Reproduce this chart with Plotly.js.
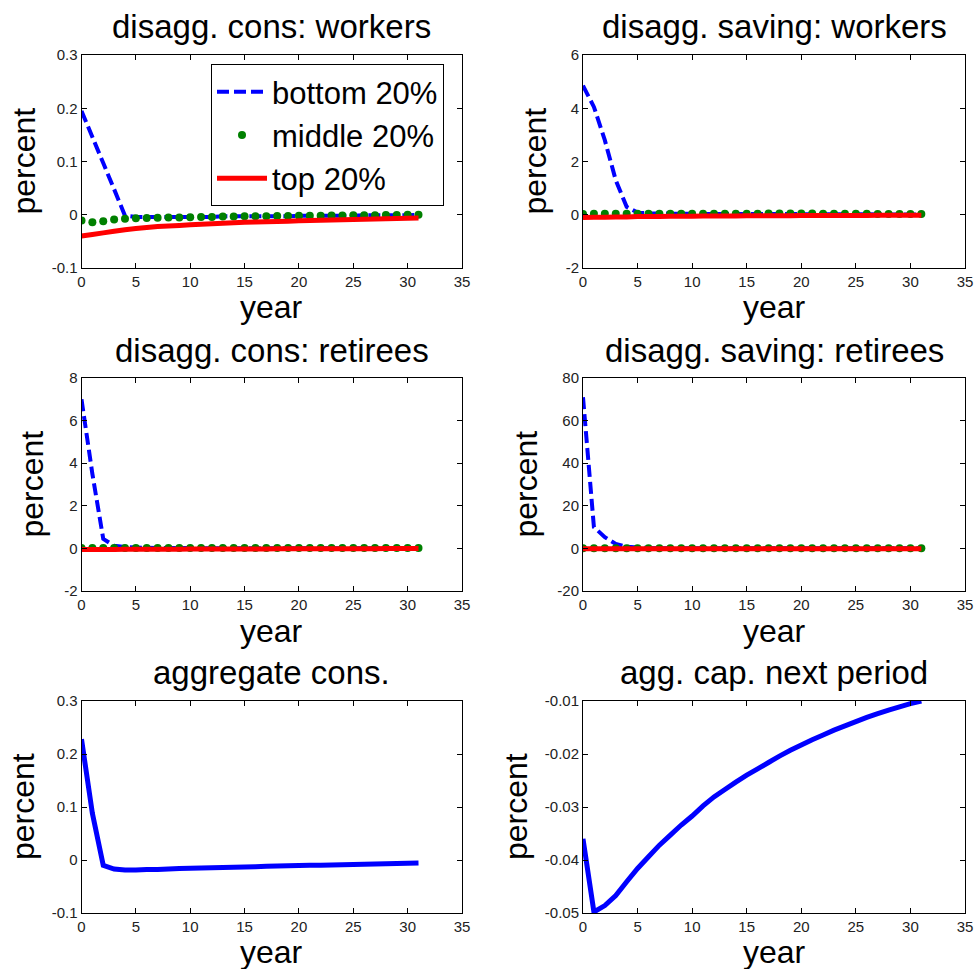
<!DOCTYPE html>
<html>
<head>
<meta charset="utf-8">
<script src="https://cdn.plot.ly/plotly-3.0.1.min.js"></script>
<style>html,body{margin:0;padding:0;background:#fff;}#chart{width:974px;height:969px;}</style>
</head>
<body>
<div id="chart"></div>
<script>
// ---------- data ----------
const years = [0,1,2,3,4,5,6,7,8,9,10,11,12,13,14,15,16,17,18,19,20,21,22,23,24,25,26,27,28,29,30,31];

const seriesNames = ["bottom 20%", "middle 20%", "top 20%"];

const consWorkersBottom = [0.195,0.146,0.097,0.048,-0.002,-0.004,-0.004,-0.004,-0.004,-0.004,-0.004,-0.004,-0.004,-0.003,-0.003,-0.003,-0.003,-0.003,-0.003,-0.003,-0.002,-0.002,-0.002,-0.002,-0.002,-0.002,-0.001,-0.001,-0.001,-0.001,-0.001,0.000];
const consWorkersMiddle = [-0.011,-0.014,-0.012,-0.009,-0.0075,-0.0065,-0.006,-0.0055,-0.005,-0.005,-0.0045,-0.004,-0.004,-0.0035,-0.0035,-0.003,-0.003,-0.003,-0.0025,-0.0025,-0.002,-0.002,-0.002,-0.0015,-0.0015,-0.001,-0.001,-0.001,-0.0005,-0.0005,0,0];
const consWorkersTop = [-0.040,-0.037,-0.034,-0.031,-0.028,-0.026,-0.024,-0.022,-0.021,-0.020,-0.019,-0.018,-0.017,-0.016,-0.015,-0.014,-0.0135,-0.013,-0.0125,-0.012,-0.0115,-0.011,-0.0105,-0.010,-0.0095,-0.009,-0.0085,-0.008,-0.0075,-0.007,-0.0065,-0.006];

const savWorkersBottom = [4.85,4.05,2.8,1.3,0.3,0.08,0.05,0.05,0.04,0.04,0.04,0.03,0.03,0.03,0.03,0.03,0.03,0.03,0.03,0.03,0.02,0.02,0.02,0.02,0.02,0.02,0.02,0.01,0.01,0.01,0.01,0.01];
const savWorkersMiddle = [0.03,0.04,0.04,0.04,0.04,0.04,0.04,0.04,0.04,0.04,0.04,0.04,0.04,0.04,0.04,0.04,0.04,0.05,0.05,0.05,0.05,0.05,0.04,0.04,0.04,0.04,0.04,0.03,0.03,0.03,0.03,0.03];
const savWorkersTop = [-0.10,-0.09,-0.09,-0.08,-0.08,-0.07,-0.07,-0.07,-0.06,-0.06,-0.06,-0.05,-0.05,-0.05,-0.05,-0.04,-0.04,-0.04,-0.04,-0.04,-0.03,-0.03,-0.03,-0.03,-0.03,-0.03,-0.03,-0.02,-0.02,-0.02,-0.02,-0.02];

const consRetBottom = [7.0,3.5,0.45,0.12,0.06,0.04,0.03,0.02,0.02,0.015,0.015,0.01,0.01,0.01,0.01,0.01,0.01,0.01,0.01,0.01,0.01,0.01,0.01,0.01,0.01,0.01,0.01,0.01,0.01,0.01,0.01,0.01];
const consRetMiddle = [0.02,0.02,0.02,0.02,0.02,0.02,0.02,0.02,0.02,0.02,0.02,0.02,0.02,0.02,0.02,0.02,0.02,0.02,0.02,0.02,0.02,0.02,0.02,0.02,0.02,0.02,0.02,0.02,0.02,0.02,0.02,0.02];
const consRetTop = [-0.05,-0.05,-0.05,-0.05,-0.04,-0.04,-0.04,-0.04,-0.04,-0.04,-0.03,-0.03,-0.03,-0.03,-0.03,-0.03,-0.03,-0.03,-0.02,-0.02,-0.02,-0.02,-0.02,-0.02,-0.02,-0.02,-0.02,-0.02,-0.01,-0.01,-0.01,-0.01];

const savRetBottom = [71,10,5.3,2.1,0.8,0.4,0.2,0.1,0.08,0.06,0.05,0.05,0.04,0.04,0.04,0.03,0.03,0.03,0.03,0.03,0.02,0.02,0.02,0.02,0.02,0.02,0.02,0.02,0.02,0.02,0.02,0.02];
const savRetMiddle = [0.1,0.1,0.1,0.1,0.1,0.1,0.1,0.1,0.1,0.1,0.1,0.1,0.1,0.1,0.1,0.1,0.1,0.1,0.1,0.1,0.1,0.1,0.1,0.1,0.1,0.1,0.1,0.1,0.1,0.1,0.1,0.1];
const savRetTop = [-0.2,-0.2,-0.2,-0.2,-0.2,-0.2,-0.2,-0.2,-0.2,-0.2,-0.2,-0.2,-0.2,-0.2,-0.2,-0.2,-0.2,-0.2,-0.2,-0.2,-0.2,-0.2,-0.2,-0.2,-0.2,-0.2,-0.2,-0.2,-0.2,-0.2,-0.2,-0.2];

const aggCons = [0.228,0.088,-0.010,-0.017,-0.019,-0.019,-0.018,-0.018,-0.017,-0.016,-0.0155,-0.015,-0.0145,-0.014,-0.0135,-0.013,-0.0125,-0.012,-0.0115,-0.011,-0.0105,-0.010,-0.0097,-0.0093,-0.009,-0.0085,-0.008,-0.0075,-0.007,-0.0065,-0.006,-0.0055];
const aggCap = [-0.036,-0.0498,-0.0486,-0.0467,-0.0441,-0.0416,-0.0394,-0.0372,-0.0353,-0.0334,-0.0317,-0.0298,-0.0281,-0.0267,-0.0253,-0.0240,-0.0228,-0.0216,-0.0204,-0.0193,-0.0183,-0.0173,-0.0164,-0.0155,-0.0147,-0.0139,-0.0131,-0.0124,-0.0117,-0.0111,-0.0105,-0.0100];

const panelTitles = ["disagg. cons: workers","disagg. saving: workers","disagg. cons: retirees","disagg. saving: retirees","aggregate cons.","agg. cap. next period"];
const xLabel = "year";
const yLabel = "percent";

const xTickVals = [0,5,10,15,20,25,30,35];
const xTickText = ["0","5","10","15","20","25","30","35"];
const yTicks = [
  {vals:[-0.1,0,0.1,0.2,0.3], text:["-0.1","0","0.1","0.2","0.3"]},
  {vals:[-2,0,2,4,6], text:["-2","0","2","4","6"]},
  {vals:[-2,0,2,4,6,8], text:["-2","0","2","4","6","8"]},
  {vals:[-20,0,20,40,60,80], text:["-20","0","20","40","60","80"]},
  {vals:[-0.1,0,0.1,0.2,0.3], text:["-0.1","0","0.1","0.2","0.3"]},
  {vals:[-0.05,-0.04,-0.03,-0.02,-0.01], text:["-0.05","-0.04","-0.03","-0.02","-0.01"]}
];

// ---------- layout geometry (pixels) ----------
const W = 974, H = 969;
const colX = [[81.5,462],[583,965]];
const rowY = [[55,268],[378,591],[701,913]];
const yRanges = [[-0.1,0.3],[-2,6],[-2,8],[-20,80],[-0.1,0.3],[-0.05,-0.01]];
const titleCY = [27,350,672];
const xlabCY = [307,631,952];
const ylabCX = [[24,535],[31,525],[23,516]];

const FONT = "Liberation Sans, Arial, Helvetica, sans-serif";
const BLUE = "#0000ff", GREEN = "#008000", RED = "#ff0000";

const layout = {
  width: W, height: H,
  margin: {l:0, r:0, t:0, b:0},
  paper_bgcolor: "#fff", plot_bgcolor: "#fff",
  font: {family: FONT, color: "#000"},
  showlegend: true,
  legend: {
    x: 211/W, y: 1-64/H, xanchor: "left", yanchor: "top",
    bgcolor: "#fff", bordercolor: "#000", borderwidth: 1,
    font: {family: FONT, size: 31, color: "#000"},
    tracegroupgap: 0, itemwidth: 50
  },
  annotations: []
};

for (let i = 0; i < 6; i++) {
  const r = Math.floor(i/2), c = i % 2;
  const n = i + 1;
  const xd = [colX[c][0]/W, colX[c][1]/W];
  const yd = [1 - rowY[r][1]/H, 1 - rowY[r][0]/H];
  layout["xaxis" + n] = {
    domain: xd, anchor: "y" + n, range: [0,35],
    tickvals: xTickVals, ticktext: xTickText,
    ticks: "inside", ticklen: 5, tickcolor: "#000", tickwidth: 1,
    mirror: "ticks", showline: true, linecolor: "#000", linewidth: 1,
    showgrid: false, zeroline: false, fixedrange: true,
    tickfont: {family: FONT, size: 15, color: "#222"}
  };
  layout["yaxis" + n] = {
    domain: yd, anchor: "x" + n, range: yRanges[i],
    tickvals: yTicks[i].vals, ticktext: yTicks[i].text,
    ticks: "inside", ticklen: 5, tickcolor: "#000", tickwidth: 1,
    mirror: "ticks", showline: true, linecolor: "#000", linewidth: 1,
    showgrid: false, zeroline: false, fixedrange: true,
    tickfont: {family: FONT, size: 15, color: "#222"}
  };
  const cx = (colX[c][0] + colX[c][1]) / 2 / W;
  layout.annotations.push({
    xref: "paper", yref: "paper", x: cx, y: 1 - titleCY[r]/H,
    xanchor: "center", yanchor: "middle", showarrow: false,
    text: panelTitles[i], font: {family: FONT, size: 33, color: "#000"}
  });
  layout.annotations.push({
    xref: "paper", yref: "paper", x: cx, y: 1 - xlabCY[r]/H,
    xanchor: "center", yanchor: "middle", showarrow: false,
    text: xLabel, font: {family: FONT, size: 32, color: "#000"}
  });
  layout.annotations.push({
    xref: "paper", yref: "paper", x: ylabCX[r][c]/W, y: 1 - (rowY[r][0]+rowY[r][1])/2/H,
    xanchor: "center", yanchor: "middle", showarrow: false, textangle: -90,
    text: yLabel, font: {family: FONT, size: 32, color: "#000"}
  });
}

const traces = [];
function addDisagg(n, bottom, middle, top, legend) {
  traces.push({x: years, y: bottom, xaxis: "x"+n, yaxis: "y"+n, type: "scatter", mode: "lines",
    name: seriesNames[0], showlegend: legend, line: {color: BLUE, width: 4, dash: "12px,5px", simplify: false}});
  traces.push({x: years, y: middle, xaxis: "x"+n, yaxis: "y"+n, type: "scatter", mode: "markers",
    name: seriesNames[1], showlegend: legend, marker: {color: GREEN, size: 8, symbol: "circle"}});
  traces.push({x: years, y: top, xaxis: "x"+n, yaxis: "y"+n, type: "scatter", mode: "lines",
    name: seriesNames[2], showlegend: legend, line: {color: RED, width: 5, simplify: false}});
}
addDisagg(1, consWorkersBottom, consWorkersMiddle, consWorkersTop, true);
addDisagg(2, savWorkersBottom, savWorkersMiddle, savWorkersTop, false);
addDisagg(3, consRetBottom, consRetMiddle, consRetTop, false);
addDisagg(4, savRetBottom, savRetMiddle, savRetTop, false);
traces.push({x: years, y: aggCons, xaxis: "x5", yaxis: "y5", type: "scatter", mode: "lines",
  showlegend: false, line: {color: BLUE, width: 5, simplify: false}});
traces.push({x: years, y: aggCap, xaxis: "x6", yaxis: "y6", type: "scatter", mode: "lines",
  showlegend: false, line: {color: BLUE, width: 5, simplify: false}});

Plotly.newPlot("chart", traces, layout, {staticPlot: true, displayModeBar: false});
</script>
</body>
</html>
